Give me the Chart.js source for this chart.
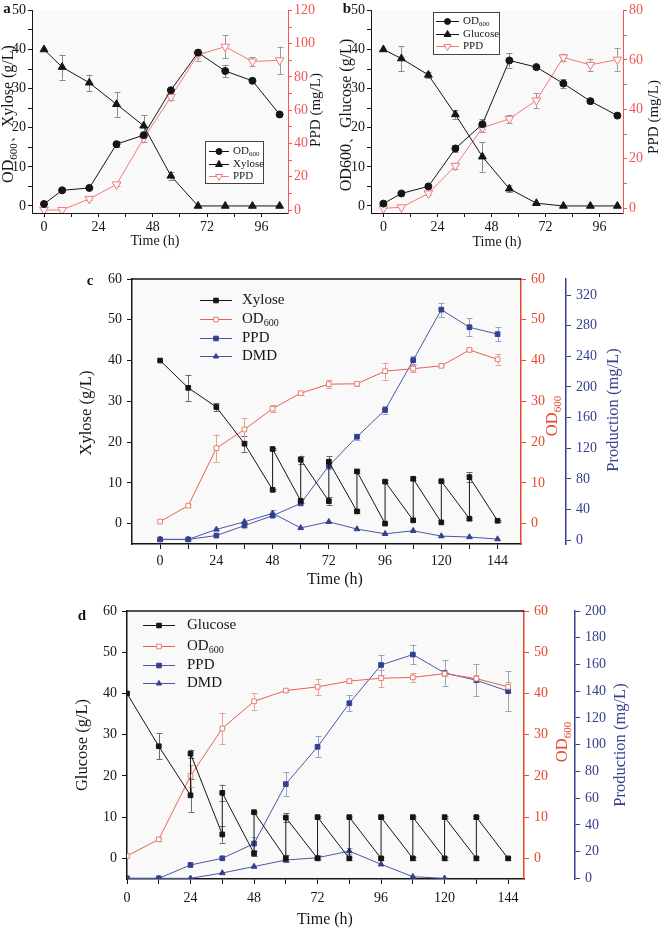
<!DOCTYPE html>
<html>
<head>
<meta charset="utf-8">
<script src="https://cdn.jsdelivr.net/npm/chart.js@4.4.0/dist/chart.umd.min.js"></script>
<style>
html, body { margin: 0; padding: 0; background: #fff; }
#fig { position: relative; width: 662px; height: 931px; overflow: hidden; }
#fig canvas { position: absolute; left: 0; top: 0; }
</style>
</head>
<body>
<div id="fig">
  <canvas id="pa" width="662" height="931"></canvas>
  <canvas id="pb" width="662" height="931"></canvas>
  <canvas id="pc" width="662" height="931"></canvas>
  <canvas id="pd" width="662" height="931"></canvas>
</div>
<script>
const F = "'Liberation Serif', 'Times New Roman', serif";

// ---- panels a / b (batch, 10 samples) ----
const abTime = [0, 8, 20, 32, 44, 56, 68, 80, 92, 104];
const aOD = [0.5, 4.0, 4.6, 15.8, 18.1, 29.6, 39.2, 34.5, 32.0, 23.4];
const aODErr = [0, 0.5, 0.3, 0.8, 0.5, 0.4, 0.5, 1.6, 0.4, 0];
const aXylose = [40, 35.5, 31.5, 26, 20.5, 7.7, 0, 0, 0, 0];
const aXyloseErr = [0, 3.2, 2.1, 3.2, 2.7, 1.0, 0, 0, 0, 0];
const aPPD = [0, 0, 6.7, 15.4, 43.1, 68, 93.3, 98.2, 89.3, 90];
const aPPDErr = [0, 0, 0.8, 1, 2.5, 2, 3.5, 7, 2.5, 8.2];

const bOD = [0.6, 3.2, 5.0, 14.7, 20.9, 37.2, 35.5, 31.3, 26.8, 23.1];
const bODErr = [0, 0, 0, 0.8, 1.3, 1.8, 0, 1.1, 0.5, 0];
const bGlucose = [40, 37.7, 33.5, 23.4, 12.6, 4.4, 0.7, 0, 0, 0];
const bGlucoseErr = [0, 3.2, 0.8, 1.1, 3.8, 0.9, 0, 0, 0, 0];
const bPPD = [0, 0.4, 6, 17.2, 32.5, 36.2, 43.6, 61, 58, 60.1];
const bPPDErr = [0, 0, 0.5, 1.2, 1.5, 1.6, 3, 1.5, 2.5, 4.5];

// ---- panels c / d (fed batch) ----
const cdTime = [0, 12, 24, 36, 48, 60, 72, 84, 96, 108, 120, 132, 144];

const cXylTime = [0, 12, 24, 36, 48, 48, 60, 60, 72, 72, 84, 84, 96, 96, 108, 108, 120, 120, 132, 132, 144];
const cXylose = [40, 33.3, 28.6, 19.6, 8.3, 18.3, 5.6, 15.7, 5.5, 15.2, 3.0, 12.8, 0, 10.3, 0.8, 11.0, 0.3, 10.4, 1.2, 11.4, 0.7];
const cXyloseErr = [0, 3.2, 1, 2, 0.3, 0.3, 0.5, 1, 1, 1.4, 0.3, 0.3, 0, 0.3, 0, 0.4, 0, 0.3, 0.3, 1.3, 0.3];
const cOD = [0.5, 4.4, 18.5, 23.1, 28.2, 32.0, 34.2, 34.3, 37.4, 38.0, 38.7, 42.6, 40.3];
const cODErr = [0, 0.3, 3.3, 2.8, 0.9, 0.4, 1, 0.5, 2.1, 0.9, 0.3, 0.3, 1.3];
const cPPD = [1, 1, 6, 19, 32, 48, 97, 135, 170, 235, 301, 278, 269];
const cPPDErr = [0, 0, 0, 0, 0, 0, 4, 4, 5, 5, 9, 12, 9];
const cDMD = [1, 1, 14, 24, 35, 16, 24, 14.5, 8.3, 12.3, 5.3, 4.1, 1.4];
const cDMDErr = [0, 0, 0, 0, 4, 0, 0, 0, 0, 0, 0, 0, 0];

const dGluTime = [0, 12, 24, 24, 36, 36, 48, 48, 60, 60, 72, 72, 84, 84, 96, 96, 108, 108, 120, 120, 132, 132, 144];
const dGlucose = [40, 27.2, 15.3, 25.4, 5.8, 15.9, 1.2, 11.2, 0, 9.9, 0, 10, 0, 10, 0, 10, 0, 10, 0, 10, 0, 10, 0];
const dGlucoseErr = [0, 3.2, 4, 1, 2, 2, 0.6, 0.3, 0.9, 1, 0.5, 0.3, 0.3, 0.3, 0.3, 0.3, 0.3, 0.3, 0.3, 0.3, 0.3, 0.3, 0.3];
const dOD = [0.6, 4.6, 20, 31.5, 38.1, 40.7, 41.6, 43.0, 43.7, 43.9, 44.8, 43.6, 41.6];
const dODErr = [0, 0.3, 2.6, 3.8, 2, 0.3, 2, 0.5, 2.1, 1, 0.5, 0.9, 1.2];
const dPPD = [0, 0, 10, 15, 26, 70.5, 98.4, 131, 159.6, 167.4, 153.7, 148.2, 140];
const dPPDErr = [0, 0, 0, 0, 5, 9, 8, 6, 7.6, 7.4, 9.6, 12, 15];
const dDMD = [0, 0, 0, 4, 8.8, 13.7, 15.4, 20.4, 10.5, 1.2, 0, null, null];
const dDMDErr = [0, 0, 0, 0, 0, 0, 2, 2, 0, 0, 0, 0, 0];

// ---- ticks ----
const abTimeTicks = [0, 12, 24, 36, 48, 60, 72, 84, 96];
const cdTimeTicks = [0, 12, 24, 36, 48, 60, 72, 84, 96, 108, 120, 132, 144];
const timeLabels = [0, 24, 48, 72, 96, 120, 144];
const abLeftTicks = [0, 5, 10, 15, 20, 25, 30, 35, 40, 45, 50];
const abLeftLabels = [0, 10, 20, 30, 40, 50];
const aRightTicks = [0, 10, 20, 30, 40, 50, 60, 70, 80, 90, 100, 110, 120];
const aRightLabels = [0, 20, 40, 60, 80, 100, 120];
const bRightTicks = [0, 10, 20, 30, 40, 50, 60, 70, 80];
const bRightLabels = [0, 20, 40, 60, 80];
const cdLeftTicks = [0, 10, 20, 30, 40, 50, 60];
const cBlueTicks = [0, 40, 80, 120, 160, 200, 240, 280, 320];
const dBlueTicks = [0, 20, 40, 60, 80, 100, 120, 140, 160, 180, 200];

const BLACK = '#151515';
const PINK = '#f27a78';
const PINK_AX = '#f25555';
const RED = '#e8472f';
const RED_LINE = '#e5644f';
const BLUE = '#34408e';
const BLUE_LINE = '#4d57a5';
const BG = '#faf9f9';

function pts(xs, ys) {
  return xs.map((x, i) => ({ x: x, y: ys[i] }));
}

function axis(o) {
  return {
    type: 'linear', position: o.pos, min: o.min, max: o.max, weight: o.weight || 0,
    afterBuildTicks: ax => { ax.ticks = o.ticks.map(v => ({ value: v })); },
    afterFit: ax => { if (o.pos === 'bottom') ax.height = o.size; else ax.width = o.size; },
    ticks: {
      autoSkip: false, maxRotation: 0, minRotation: 0, padding: o.pad, color: o.color,
      font: { family: F, size: o.font },
      callback: v => (o.labels.includes(v) ? String(v) : '')
    },
    grid: { drawOnChartArea: false, drawTicks: true, tickLength: o.tick, color: o.color, tickColor: o.color, tickWidth: 1 },
    border: { display: true, color: o.color, width: o.bw }
  };
}

function drawMarker(ctx, style, x, y, r, fill, stroke) {
  ctx.beginPath();
  if (style === 'circle') {
    ctx.arc(x, y, r, 0, Math.PI * 2);
  } else if (style === 'rect') {
    ctx.rect(x - r, y - r, 2 * r, 2 * r);
  } else if (style === 'triangle') {
    ctx.moveTo(x, y - r); ctx.lineTo(x + r * 0.866, y + r * 0.5); ctx.lineTo(x - r * 0.866, y + r * 0.5); ctx.closePath();
  } else if (style === 'down') {
    ctx.moveTo(x, y + r); ctx.lineTo(x + r * 0.866, y - r * 0.5); ctx.lineTo(x - r * 0.866, y - r * 0.5); ctx.closePath();
  }
  ctx.fillStyle = fill; ctx.fill();
  ctx.lineWidth = 1; ctx.strokeStyle = stroke; ctx.stroke();
}

// text with optional subscript parts: parts = [[text, isSub], ...]
function drawRich(ctx, it) {
  const s = it.size;
  const w8 = it.bold ? 'bold ' : '';
  const font = w8 + s + 'px ' + F;
  const sfont = w8 + Math.round(s * 0.68) + 'px ' + F;
  ctx.save();
  ctx.translate(it.x, it.y);
  ctx.rotate((it.rot || 0) * Math.PI / 180);
  ctx.fillStyle = it.color || BLACK;
  ctx.textBaseline = 'middle';
  let total = 0;
  const parts = it.parts.map(p => {
    const f = p[1] ? sfont : font;
    ctx.font = f;
    const pw = ctx.measureText(p[0]).width;
    total += pw;
    return { t: p[0], f: f, pw: pw, sub: p[1] };
  });
  let x = it.align === 'left' ? 0 : -total / 2;
  ctx.textAlign = 'left';
  parts.forEach(p => {
    ctx.font = p.f;
    ctx.fillText(p.t, x, p.sub ? s * 0.3 : 0);
    x += p.pw;
  });
  ctx.restore();
}

function decor(cfg) {
  return {
    id: 'decor',
    beforeDraw(chart) {
      const a = chart.chartArea, ctx = chart.ctx;
      ctx.save();
      ctx.fillStyle = BG;
      ctx.fillRect(a.left, a.top, a.right - a.left, a.bottom - a.top);
      ctx.restore();
    },
    beforeDatasetsDraw(chart) {
      const ctx = chart.ctx;
      chart.data.datasets.forEach((ds, i) => {
        if (!ds.errors) return;
        const meta = chart.getDatasetMeta(i);
        const ys = chart.scales[ds.yAxisID];
        ctx.save();
        ctx.strokeStyle = ds.errorColor;
        ctx.lineWidth = 1;
        meta.data.forEach((p, j) => {
          const e = ds.errors[j];
          const v = ds.data[j].y;
          if (!e || v === null) return;
          const y1 = ys.getPixelForValue(v + e), y2 = ys.getPixelForValue(v - e);
          const x = Math.round(p.x) + 0.5, c = cfg.cap;
          ctx.beginPath();
          ctx.moveTo(x, y1); ctx.lineTo(x, y2);
          ctx.moveTo(x - c, Math.round(y1) + 0.5); ctx.lineTo(x + c, Math.round(y1) + 0.5);
          ctx.moveTo(x - c, Math.round(y2) + 0.5); ctx.lineTo(x + c, Math.round(y2) + 0.5);
          ctx.stroke();
        });
        ctx.restore();
      });
    },
    afterDraw(chart) {
      const ctx = chart.ctx, a = chart.chartArea;
      if (cfg.topLine) {
        ctx.save();
        ctx.strokeStyle = BLACK; ctx.lineWidth = cfg.topLine;
        ctx.beginPath(); ctx.moveTo(a.left, a.top); ctx.lineTo(a.right, a.top); ctx.stroke();
        ctx.restore();
      }
      const L = cfg.legend;
      ctx.save();
      if (L.box) {
        ctx.strokeStyle = '#444'; ctx.lineWidth = 1;
        ctx.fillStyle = '#fff';
        ctx.fillRect(L.box[0], L.box[1], L.box[2], L.box[3]);
        ctx.strokeRect(L.box[0] + 0.5, L.box[1] + 0.5, L.box[2], L.box[3]);
      }
      L.rows.forEach(r => {
        ctx.strokeStyle = r.line; ctx.lineWidth = 1;
        ctx.beginPath(); ctx.moveTo(L.x1, r.y + 0.5); ctx.lineTo(L.x2, r.y + 0.5); ctx.stroke();
        drawMarker(ctx, r.style, (L.x1 + L.x2) / 2, r.y + 0.5, r.r, r.fill, r.stroke);
        drawRich(ctx, { parts: r.parts, x: L.tx, y: r.y, size: L.size, align: 'left', color: BLACK });
      });
      ctx.restore();
      cfg.texts.forEach(t => drawRich(ctx, t));
    }
  };
}

function ds(o) {
  return {
    label: o.label, data: o.data, errors: o.err, errorColor: o.errColor, yAxisID: o.axis,
    borderColor: o.line, borderWidth: 1, tension: 0, spanGaps: false, fill: false,
    pointStyle: o.style, pointRotation: o.rot || 0, pointRadius: o.r,
    pointBackgroundColor: o.fill, pointBorderColor: o.stroke, pointBorderWidth: 1
  };
}

function make(id, datasets, scales, padding, cfg) {
  new Chart(document.getElementById(id), {
    type: 'line',
    data: { datasets: datasets },
    options: {
      responsive: false, animation: false, devicePixelRatio: 1,
      layout: { padding: padding },
      plugins: { legend: { display: false }, tooltip: { enabled: false } },
      scales: scales
    },
    plugins: [decor(cfg)]
  });
}

// ---------- panel a ----------
make('pa', [
  ds({ label: 'OD600', data: pts(abTime, aOD), err: aODErr, errColor: '#8a8a8a', axis: 'y', line: BLACK, style: 'circle', r: 3.5, fill: BLACK, stroke: BLACK }),
  ds({ label: 'Xylose', data: pts(abTime, aXylose), err: aXyloseErr, errColor: '#8a8a8a', axis: 'y', line: BLACK, style: 'triangle', r: 4.5, fill: BLACK, stroke: BLACK }),
  ds({ label: 'PPD', data: pts(abTime, aPPD), err: aPPDErr, errColor: '#9a9a9a', axis: 'y1', line: PINK, style: 'triangle', rot: 180, r: 5, fill: BG, stroke: PINK })
], {
  x: axis({ pos: 'bottom', min: -5.3, max: 107.7, ticks: abTimeTicks, labels: timeLabels, size: 22, pad: 2, tick: 4, font: 14, color: BLACK, bw: 1 }),
  y: axis({ pos: 'left', min: -1.8, max: 50, ticks: abLeftTicks, labels: abLeftLabels, size: 28, pad: 2, tick: 4, font: 14, color: BLACK, bw: 1 }),
  y1: axis({ pos: 'right', min: -1.8, max: 120, ticks: aRightTicks, labels: aRightLabels, size: 30, pad: 2, tick: 4, font: 14, color: PINK_AX, bw: 1 })
}, { left: 4, right: 344, top: 8, bottom: 696 }, {
  cap: 3,
  legend: {
    box: [205, 141, 58, 42], x1: 209, x2: 229, tx: 233, size: 11,
    rows: [
      { y: 151, parts: [['OD'], ['600', true]], line: BLACK, style: 'circle', r: 3, fill: BLACK, stroke: BLACK },
      { y: 164, parts: [['Xylose']], line: BLACK, style: 'triangle', r: 4, fill: BLACK, stroke: BLACK },
      { y: 176, parts: [['PPD']], line: PINK, style: 'down', r: 4, fill: '#fff', stroke: PINK }
    ]
  },
  texts: [
    { parts: [['a']], x: 7, y: 9, size: 15, bold: true },
    { parts: [['OD'], ['600', true], ['、Xylose (g/L)']], x: 9, y: 114, rot: -90, size: 16 },
    { parts: [['PPD (mg/L)']], x: 316, y: 110, rot: -90, size: 15 },
    { parts: [['Time (h)']], x: 155, y: 241, size: 14 }
  ]
});

// ---------- panel b ----------
make('pb', [
  ds({ label: 'OD600', data: pts(abTime, bOD), err: bODErr, errColor: '#8a8a8a', axis: 'y', line: BLACK, style: 'circle', r: 3.5, fill: BLACK, stroke: BLACK }),
  ds({ label: 'Glucose', data: pts(abTime, bGlucose), err: bGlucoseErr, errColor: '#8a8a8a', axis: 'y', line: BLACK, style: 'triangle', r: 4.5, fill: BLACK, stroke: BLACK }),
  ds({ label: 'PPD', data: pts(abTime, bPPD), err: bPPDErr, errColor: '#9a9a9a', axis: 'y1', line: PINK, style: 'triangle', rot: 180, r: 5, fill: BG, stroke: PINK })
], {
  x: axis({ pos: 'bottom', min: -5.5, max: 106.5, ticks: abTimeTicks, labels: timeLabels, size: 22, pad: 2, tick: 4, font: 14, color: BLACK, bw: 1 }),
  y: axis({ pos: 'left', min: -1.8, max: 50, ticks: abLeftTicks, labels: abLeftLabels, size: 28, pad: 2, tick: 4, font: 14, color: BLACK, bw: 1 }),
  y1: axis({ pos: 'right', min: -1.9, max: 80, ticks: bRightTicks, labels: bRightLabels, size: 30, pad: 2, tick: 4, font: 14, color: PINK_AX, bw: 1 })
}, { left: 343, right: 9, top: 8, bottom: 696 }, {
  cap: 3,
  legend: {
    box: [433, 12, 66, 42], x1: 436, x2: 459, tx: 463, size: 11,
    rows: [
      { y: 21, parts: [['OD'], ['600', true]], line: BLACK, style: 'circle', r: 3, fill: BLACK, stroke: BLACK },
      { y: 34, parts: [['Glucose']], line: BLACK, style: 'triangle', r: 4, fill: BLACK, stroke: BLACK },
      { y: 46, parts: [['PPD']], line: PINK, style: 'down', r: 4, fill: '#fff', stroke: PINK }
    ]
  },
  texts: [
    { parts: [['b']], x: 347, y: 9, size: 15, bold: true },
    { parts: [['OD600、Glucose (g/L)']], x: 347, y: 115, rot: -90, size: 16 },
    { parts: [['PPD (mg/L)']], x: 654, y: 117, rot: -90, size: 15 },
    { parts: [['Time (h)']], x: 497, y: 242, size: 14 }
  ]
});

// ---------- panel c ----------
make('pc', [
  ds({ label: 'Xylose', data: pts(cXylTime, cXylose), err: cXyloseErr, errColor: '#6a6a6a', axis: 'y', line: BLACK, style: 'rect', r: 3.3, fill: BLACK, stroke: BLACK }),
  ds({ label: 'OD600', data: pts(cdTime, cOD), err: cODErr, errColor: '#e9a195', axis: 'yr', line: RED_LINE, style: 'rect', r: 3.3, fill: '#fff', stroke: '#e8806f' }),
  ds({ label: 'PPD', data: pts(cdTime, cPPD), err: cPPDErr, errColor: '#9aa0c8', axis: 'yb', line: BLUE_LINE, style: 'rect', r: 3.3, fill: BLUE, stroke: BLUE }),
  ds({ label: 'DMD', data: pts(cdTime, cDMD), err: cDMDErr, errColor: '#9aa0c8', axis: 'yb', line: BLUE_LINE, style: 'triangle', r: 3.3, fill: BLUE, stroke: BLUE })
], {
  x: axis({ pos: 'bottom', min: -12, max: 154, ticks: cdTimeTicks, labels: timeLabels, size: 30, pad: 4, tick: 5, font: 14, color: BLACK, bw: 1.5 }),
  y: axis({ pos: 'left', min: -5, max: 60, ticks: cdLeftTicks, labels: cdLeftTicks, size: 38, pad: 5, tick: 5, font: 14, color: BLACK, bw: 1.5 }),
  yr: axis({ pos: 'right', min: -5, max: 60, ticks: cdLeftTicks, labels: cdLeftTicks, size: 45, pad: 5, tick: 5, font: 14, color: RED, bw: 1.5, weight: 1 }),
  yb: axis({ pos: 'right', min: -5, max: 341, ticks: cBlueTicks, labels: cBlueTicks, size: 60, pad: 5, tick: 5, font: 14, color: BLUE, bw: 1.5, weight: 2 })
}, { left: 94, right: 36, top: 279, bottom: 357 }, {
  cap: 3, topLine: 1.5,
  legend: {
    x1: 200, x2: 232, tx: 242, size: 15,
    rows: [
      { y: 300, parts: [['Xylose']], line: BLACK, style: 'rect', r: 2.3, fill: BLACK, stroke: BLACK },
      { y: 319, parts: [['OD'], ['600', true]], line: RED_LINE, style: 'rect', r: 2.3, fill: '#fff', stroke: '#e8806f' },
      { y: 338, parts: [['PPD']], line: BLUE_LINE, style: 'rect', r: 2.3, fill: BLUE, stroke: BLUE },
      { y: 356, parts: [['DMD']], line: BLUE_LINE, style: 'triangle', r: 3, fill: BLUE, stroke: BLUE }
    ]
  },
  texts: [
    { parts: [['c']], x: 90, y: 281, size: 15, bold: true },
    { parts: [['Xylose (g/L)']], x: 87, y: 413, rot: -90, size: 16.5 },
    { parts: [['OD'], ['600', true]], x: 553, y: 416, rot: -90, size: 16.5, color: RED },
    { parts: [['Production (mg/L)']], x: 614, y: 410, rot: -90, size: 16.5, color: BLUE },
    { parts: [['Time (h)']], x: 335, y: 580, size: 16 }
  ]
});

// ---------- panel d ----------
make('pd', [
  ds({ label: 'Glucose', data: pts(dGluTime, dGlucose), err: dGlucoseErr, errColor: '#6a6a6a', axis: 'y', line: BLACK, style: 'rect', r: 3.3, fill: BLACK, stroke: BLACK }),
  ds({ label: 'OD600', data: pts(cdTime, dOD), err: dODErr, errColor: '#e9a195', axis: 'yr', line: RED_LINE, style: 'rect', r: 3.3, fill: '#fff', stroke: '#e8806f' }),
  ds({ label: 'PPD', data: pts(cdTime, dPPD), err: dPPDErr, errColor: '#9aa0c8', axis: 'yb', line: BLUE_LINE, style: 'rect', r: 3.3, fill: BLUE, stroke: BLUE }),
  ds({ label: 'DMD', data: pts(cdTime, dDMD), err: dDMDErr, errColor: '#9aa0c8', axis: 'yb', line: BLUE_LINE, style: 'triangle', r: 3.3, fill: BLUE, stroke: BLUE })
], {
  x: axis({ pos: 'bottom', min: 0, max: 150, ticks: cdTimeTicks, labels: timeLabels, size: 30, pad: 6, tick: 5, font: 14, color: BLACK, bw: 1.5 }),
  y: axis({ pos: 'left', min: -5, max: 60, ticks: cdLeftTicks, labels: cdLeftTicks, size: 38, pad: 5, tick: 5, font: 14, color: BLACK, bw: 1.5 }),
  yr: axis({ pos: 'right', min: -5, max: 60, ticks: cdLeftTicks, labels: cdLeftTicks, size: 51, pad: 5, tick: 5, font: 14, color: RED, bw: 1.5, weight: 1 }),
  yb: axis({ pos: 'right', min: -0.5, max: 200, ticks: dBlueTicks, labels: dBlueTicks, size: 60, pad: 5, tick: 5, font: 14, color: BLUE, bw: 1.5, weight: 2 })
}, { left: 89, right: 27, top: 611, bottom: 22 }, {
  cap: 3, topLine: 1.5,
  legend: {
    x1: 143, x2: 175, tx: 187, size: 15,
    rows: [
      { y: 625, parts: [['Glucose']], line: BLACK, style: 'rect', r: 2.3, fill: BLACK, stroke: BLACK },
      { y: 646, parts: [['OD'], ['600', true]], line: RED_LINE, style: 'rect', r: 2.3, fill: '#fff', stroke: '#e8806f' },
      { y: 665, parts: [['PPD']], line: BLUE_LINE, style: 'rect', r: 2.3, fill: BLUE, stroke: BLUE },
      { y: 683, parts: [['DMD']], line: BLUE_LINE, style: 'triangle', r: 3, fill: BLUE, stroke: BLUE }
    ]
  },
  texts: [
    { parts: [['d']], x: 82, y: 616, size: 15, bold: true },
    { parts: [['Glucose (g/L)']], x: 83, y: 745, rot: -90, size: 16.5 },
    { parts: [['OD'], ['600', true]], x: 563, y: 742, rot: -90, size: 16.5, color: RED },
    { parts: [['Production (mg/L)']], x: 621, y: 745, rot: -90, size: 16.5, color: BLUE },
    { parts: [['Time (h)']], x: 325, y: 920, size: 16 }
  ]
});
</script>
</body>
</html>
